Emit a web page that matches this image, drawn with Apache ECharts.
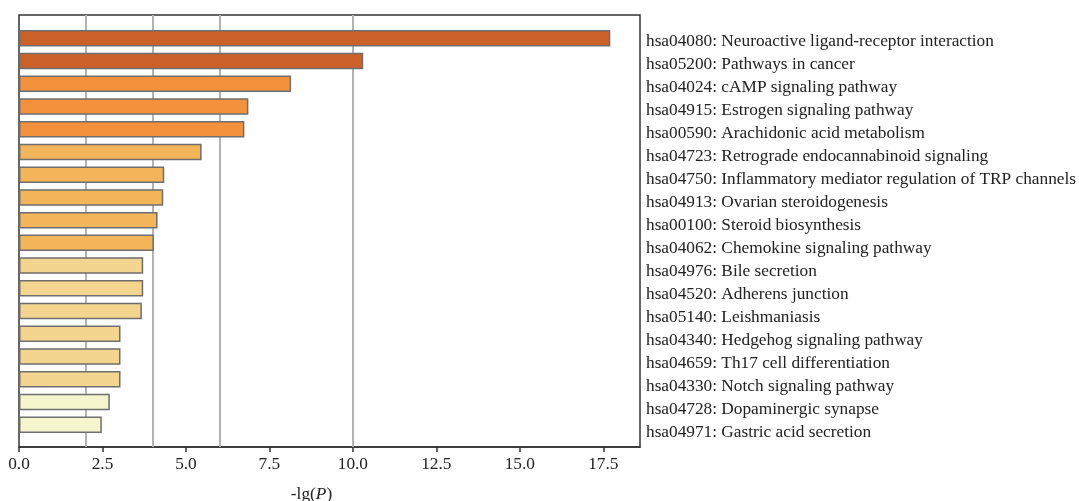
<!DOCTYPE html>
<html>
<head>
<meta charset="utf-8">
<script src="https://cdn.jsdelivr.net/npm/echarts@6/dist/echarts.min.js"></script>
<style>html,body{margin:0;padding:0;background:#fff;}#c{width:1079px;height:501px;}</style>
</head>
<body>
<div id="c"></div>
<script>
const categories = [
  'hsa04080: Neuroactive ligand-receptor interaction',
  'hsa05200: Pathways in cancer',
  'hsa04024: cAMP signaling pathway',
  'hsa04915: Estrogen signaling pathway',
  'hsa00590: Arachidonic acid metabolism',
  'hsa04723: Retrograde endocannabinoid signaling',
  'hsa04750: Inflammatory mediator regulation of TRP channels',
  'hsa04913: Ovarian steroidogenesis',
  'hsa00100: Steroid biosynthesis',
  'hsa04062: Chemokine signaling pathway',
  'hsa04976: Bile secretion',
  'hsa04520: Adherens junction',
  'hsa05140: Leishmaniasis',
  'hsa04340: Hedgehog signaling pathway',
  'hsa04659: Th17 cell differentiation',
  'hsa04330: Notch signaling pathway',
  'hsa04728: Dopaminergic synapse',
  'hsa04971: Gastric acid secretion'
];
const values = [17.71, 10.31, 8.15, 6.87, 6.75, 5.47, 4.35, 4.32, 4.15, 4.04, 3.72, 3.72, 3.68, 3.04, 3.04, 3.04, 2.72, 2.48];
const colorGroups = [0,0,1,1,1,2,2,2,2,2,3,3,3,3,3,3,4,4];
const palette = ['#CC6029', '#F3913C', '#F2B55A', '#F4D58F', '#F5F5CE'];
const thresholds = [2, 4, 6, 10];
const xTicks = [0, 2.5, 5, 7.5, 10, 12.5, 15, 17.5];
const xMax = 18.6;

const font = 'Liberation Serif, Times New Roman, serif';
const fs = 17.3;
const chart = echarts.init(document.getElementById('c'));
chart.setOption({
  animation: false,
  grid: [
    {left: 19, right: 439, top: 15, bottom: 54, outerBoundsMode: 'none', containLabel: false,
     show: true, borderColor: '#333', borderWidth: 1.5, backgroundColor: 'transparent'},
    {left: 19, right: 439, top: 27, bottom: 65, outerBoundsMode: 'none', containLabel: false},
    {left: 19, right: 439, top: 29.5, bottom: 57.5, outerBoundsMode: 'none', containLabel: false}
  ],
  xAxis: [
    {
      type: 'value', gridIndex: 0, min: 0, max: xMax, interval: 2.5,
      axisLine: {show: true, lineStyle: {color: '#333', width: 1.5}},
      axisTick: {show: true, length: 5, lineStyle: {color: '#333', width: 1.5}},
      splitLine: {show: false},
      axisLabel: {
        fontFamily: font, fontSize: fs, color: '#222', margin: 8.5,
        showMaxLabel: false,
        formatter: v => xTicks.indexOf(v) >= 0 ? v.toFixed(1) : ''
      },
      name: '-lg({i|P})', nameLocation: 'middle', nameGap: 39,
      nameTextStyle: {fontFamily: font, fontSize: fs, color: '#222', padding: [0, 36, 0, 0],
        rich: {i: {fontFamily: font, fontSize: fs, fontStyle: 'italic', color: '#222'}}}
    },
    {type: 'value', gridIndex: 1, min: 0, max: xMax, show: false},
    {type: 'value', gridIndex: 2, min: 0, max: xMax, show: false}
  ],
  yAxis: [
    {type: 'value', gridIndex: 0, min: 0, max: 1, show: false},
    {type: 'category', gridIndex: 1, data: categories, inverse: true, show: false},
    {
      type: 'category', gridIndex: 2, data: categories, inverse: true, position: 'right',
      axisLine: {show: false}, axisTick: {show: false},
      axisLabel: {fontFamily: font, fontSize: fs, color: '#222', align: 'left', margin: 6}
    }
  ],
  series: [
    {
      type: 'line', xAxisIndex: 0, yAxisIndex: 0, data: [], silent: true, z: 1,
      markLine: {
        silent: true, symbol: 'none', z: 1, label: {show: false},
        lineStyle: {color: '#B2B2B2', width: 2, type: 'solid'},
        data: thresholds.map(t => [{coord: [t, 0]}, {coord: [t, 1]}])
      }
    },
    {
      type: 'bar', xAxisIndex: 1, yAxisIndex: 1, z: 3,
      barWidth: 16.5,
      data: values.map((v, i) => ({value: v, itemStyle: {color: palette[colorGroups[i]]}})),
      itemStyle: {borderColor: '#6E6E6E', borderWidth: 1.5}
    },
    {
      type: 'bar', xAxisIndex: 2, yAxisIndex: 2, silent: true,
      data: categories.map(() => 0), itemStyle: {opacity: 0}
    }
  ]
});
</script>
</body>
</html>
